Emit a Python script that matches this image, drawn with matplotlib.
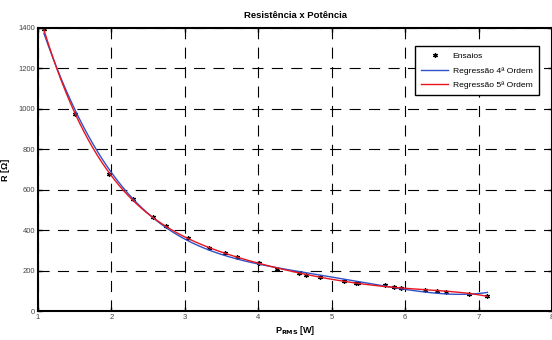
import matplotlib
matplotlib.use('Agg')
import matplotlib.pyplot as plt
import numpy as np

plt.rcParams['font.family'] = ['Liberation Sans', 'DejaVu Sans']

# Ensaios (measured points)
p_rms = [1.08, 1.50, 1.97, 2.29, 2.56, 2.74, 3.04, 3.33, 3.54, 3.71, 4.01, 4.26,
         4.56, 4.65, 4.84, 5.17, 5.33, 5.36, 5.73, 5.85, 5.95, 6.27, 6.43, 6.56,
         6.87, 7.12]
resist = [1395, 975, 680, 552, 465, 422, 362, 314, 286, 265, 236, 207,
          186, 178, 167, 146, 140, 139, 130, 120, 113, 104, 97, 93,
          86, 76]

x_ticks = [1, 2, 3, 4, 5, 6, 7, 8]
y_ticks = [0, 200, 400, 600, 800, 1000, 1200, 1400]

fig = plt.figure(figsize=(5.52, 3.40), dpi=100)
ax = fig.add_axes([38 / 552, 29 / 340, 514 / 552, 283 / 340])

# regressions of 4th and 5th order fitted to the tests
xs = np.linspace(min(p_rms), max(p_rms), 300)
c4 = np.polyfit(p_rms, resist, 4)
c5 = np.polyfit(p_rms, resist, 5)

ax.plot(p_rms, resist, linestyle='none', marker=(6, 2, 0), markersize=3.4,
        markeredgewidth=0.9, color='black', label='Ensaios')
ax.plot(xs, np.polyval(c4, xs), color='#3050c8', linewidth=1.0,
        label='Regressão 4ª Ordem')
ax.plot(xs, np.polyval(c5, xs), color='#e8141e', linewidth=1.0,
        label='Regressão 5ª Ordem')

ax.set_xlim(1, 8)
ax.set_ylim(0, 1400)
ax.set_xticks(x_ticks)
ax.set_yticks(y_ticks)
ax.grid(True, color='black', linestyle=(0, (10, 7.5)), linewidth=0.8)
ax.tick_params(direction='in', length=3, width=1, top=True, right=True,
               labelsize=5.5, labelcolor='#444444', pad=2)
for s in ax.spines.values():
    s.set_linewidth(1.5)

ax.set_title('Resistência x Potência', fontsize=6.8, fontweight='bold', pad=7)
ax.set_xlabel(r'P$_{\mathbf{RMS}}$ [W]', fontsize=6.5, fontweight='bold', labelpad=2)
ax.set_ylabel('R [Ω]', fontsize=6.5, fontweight='bold', labelpad=6)

leg = ax.legend(loc='upper right', bbox_to_anchor=(0.982, 0.95), fontsize=6.1,
                frameon=True, fancybox=False, edgecolor='black', framealpha=1,
                handlelength=3.2, handletextpad=0.5, borderpad=0.7,
                labelspacing=0.75)
leg.get_frame().set_linewidth(1.0)

fig.savefig('out.png', dpi=100, facecolor='white')
